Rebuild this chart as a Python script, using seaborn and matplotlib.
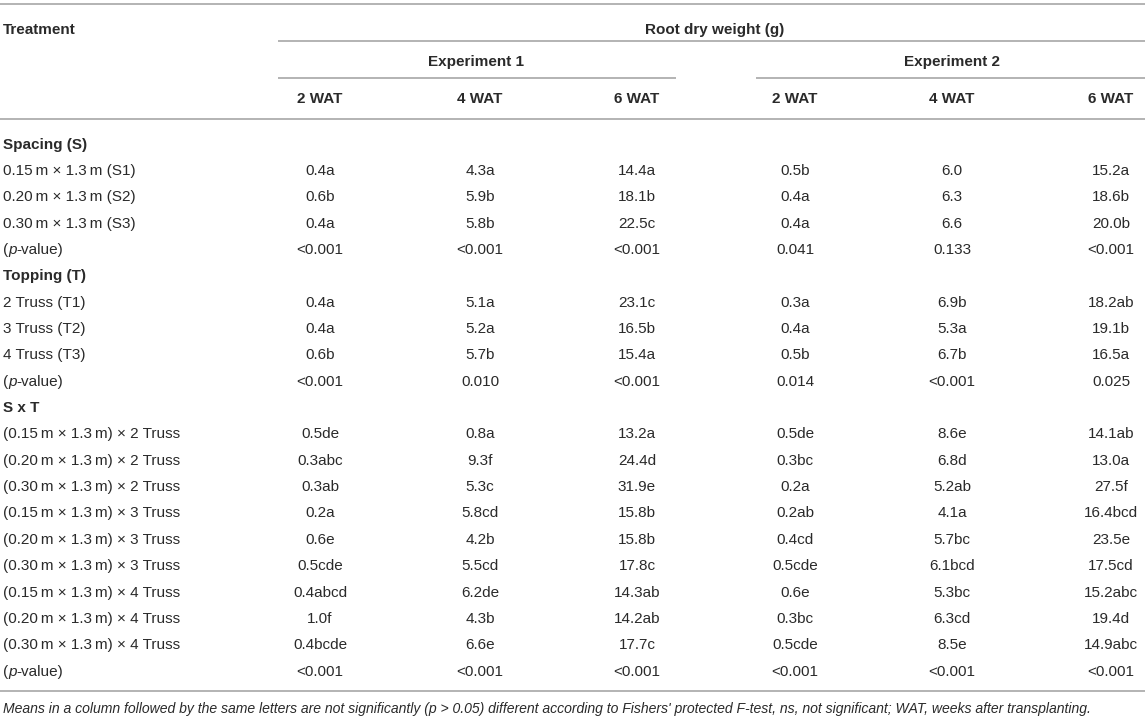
import matplotlib
matplotlib.use("Agg")
import matplotlib.pyplot as plt
import seaborn as sns
import pandas as pd

# ---------------- data ----------------
spacing_labels = ["0.15\u2009m \u00d7 1.3\u2009m (S1)",
                  "0.20\u2009m \u00d7 1.3\u2009m (S2)",
                  "0.30\u2009m \u00d7 1.3\u2009m (S3)"]
topping_labels = ["2 Truss (T1)", "3 Truss (T2)", "4 Truss (T3)"]
sxt_labels = ["(0.15\u2009m \u00d7 1.3\u2009m) \u00d7 2 Truss",
              "(0.20\u2009m \u00d7 1.3\u2009m) \u00d7 2 Truss",
              "(0.30\u2009m \u00d7 1.3\u2009m) \u00d7 2 Truss",
              "(0.15\u2009m \u00d7 1.3\u2009m) \u00d7 3 Truss",
              "(0.20\u2009m \u00d7 1.3\u2009m) \u00d7 3 Truss",
              "(0.30\u2009m \u00d7 1.3\u2009m) \u00d7 3 Truss",
              "(0.15\u2009m \u00d7 1.3\u2009m) \u00d7 4 Truss",
              "(0.20\u2009m \u00d7 1.3\u2009m) \u00d7 4 Truss",
              "(0.30\u2009m \u00d7 1.3\u2009m) \u00d7 4 Truss"]
section_titles = ["Spacing (S)", "Topping (T)", "S x T"]
pvalue_label = ["(", "p", "-value)"]   # the "p" is italic

experiments = ["Experiment 1", "Experiment 2"]
weeks = ["2 WAT", "4 WAT", "6 WAT"]

exp1_2wat = ["0.4a", "0.6b", "0.4a", "<0.001",
             "0.4a", "0.4a", "0.6b", "<0.001",
             "0.5de", "0.3abc", "0.3ab", "0.2a", "0.6e", "0.5cde", "0.4abcd", "1.0f", "0.4bcde", "<0.001"]
exp1_4wat = ["4.3a", "5.9b", "5.8b", "<0.001",
             "5.1a", "5.2a", "5.7b", "0.010",
             "0.8a", "9.3f", "5.3c", "5.8cd", "4.2b", "5.5cd", "6.2de", "4.3b", "6.6e", "<0.001"]
exp1_6wat = ["14.4a", "18.1b", "22.5c", "<0.001",
             "23.1c", "16.5b", "15.4a", "<0.001",
             "13.2a", "24.4d", "31.9e", "15.8b", "15.8b", "17.8c", "14.3ab", "14.2ab", "17.7c", "<0.001"]
exp2_2wat = ["0.5b", "0.4a", "0.4a", "0.041",
             "0.3a", "0.4a", "0.5b", "0.014",
             "0.5de", "0.3bc", "0.2a", "0.2ab", "0.4cd", "0.5cde", "0.6e", "0.3bc", "0.5cde", "<0.001"]
exp2_4wat = ["6.0", "6.3", "6.6", "0.133",
             "6.9b", "5.3a", "6.7b", "<0.001",
             "8.6e", "6.8d", "5.2ab", "4.1a", "5.7bc", "6.1bcd", "5.3bc", "6.3cd", "8.5e", "<0.001"]
exp2_6wat = ["15.2a", "18.6b", "20.0b", "<0.001",
             "18.2ab", "19.1b", "16.5a", "0.025",
             "14.1ab", "13.0a", "27.5f", "16.4bcd", "23.5e", "17.5cd", "15.2abc", "19.4d", "14.9abc", "<0.001"]

footnote = ("Means in a column followed by the same letters are not significantly (p > 0.05) different "
            "according to Fishers' protected F-test, ns, not significant; WAT, weeks after transplanting.")

# ---------------- build table rows ----------------
value_cols = [exp1_2wat, exp1_4wat, exp1_6wat, exp2_2wat, exp2_4wat, exp2_6wat]
rows = []
k = 0
for title, labels in zip(section_titles, [spacing_labels, topping_labels, sxt_labels]):
    rows.append(dict(label=title, kind="section", vals=[""] * 6))
    for lab in labels:
        rows.append(dict(label=lab, kind="data", vals=[c[k] for c in value_cols]))
        k += 1
    rows.append(dict(label=None, kind="pvalue", vals=[c[k] for c in value_cols]))
    k += 1
table = pd.DataFrame(rows)

# ---------------- style ----------------
sns.set_theme(style="white")
plt.rcParams["font.family"] = ["Liberation Sans", "DejaVu Sans"]

W, H = 1145, 720
fig = plt.figure(figsize=(W / 100, H / 100), dpi=100)
ax = fig.add_axes([0, 0, 1, 1])
ax.set_xlim(0, W)
ax.set_ylim(H, 0)
ax.axis("off")

txt_col = "#2a2a2a"
line_col = "#b3b3b3"
fs = 11
col_x = [320, 480, 637, 795, 952, 1111]
exp_x = [476, 952]
left_x = 3

def put(x, y, s, ha="center", weight="normal", style="normal", size=fs):
    half_cap = 0.729 * size * 100 / 72 / 2
    return ax.text(x, y + half_cap, s, ha=ha, va="baseline", fontsize=size,
                   fontweight=weight, fontstyle=style, color=txt_col)

renderer = fig.canvas.get_renderer()

def put_pieces(x, y, pieces, styles):
    for s, st in zip(pieces, styles):
        t = put(x, y, s, ha="left", style=st)
        bb = t.get_window_extent(renderer=renderer)
        x += bb.width

# rules
lw = 1.4
ax.hlines(4, 0, W, color=line_col, lw=lw)
ax.hlines(41, 278, W, color=line_col, lw=lw)
ax.hlines(78, 278, 676, color=line_col, lw=lw)
ax.hlines(78, 756, W, color=line_col, lw=lw)
ax.hlines(119, 0, W, color=line_col, lw=lw)
ax.hlines(691, 0, W, color=line_col, lw=lw)

# header
put(left_x, 28, "Treatment", ha="left", weight="bold")
put(715, 28, "Root dry weight (g)", weight="bold")
for ex, name in zip(exp_x, experiments):
    put(ex, 60, name, weight="bold")
for i, x in enumerate(col_x):
    put(x, 97, weeks[i % 3], weight="bold")

# body
y0, dy = 143, 26.35
for i, r in table.iterrows():
    y = y0 + i * dy
    if r["kind"] == "section":
        put(left_x, y, r["label"], ha="left", weight="bold")
        continue
    if r["kind"] == "pvalue":
        put_pieces(left_x, y, pvalue_label, ["normal", "italic", "normal"])
    else:
        put(left_x, y, r["label"], ha="left")
    for x, v in zip(col_x, r["vals"]):
        put(x, y, v)

# footnote
put(left_x, 708, footnote, ha="left", style="italic", size=10.1)

fig.savefig("out.png", dpi=100)
